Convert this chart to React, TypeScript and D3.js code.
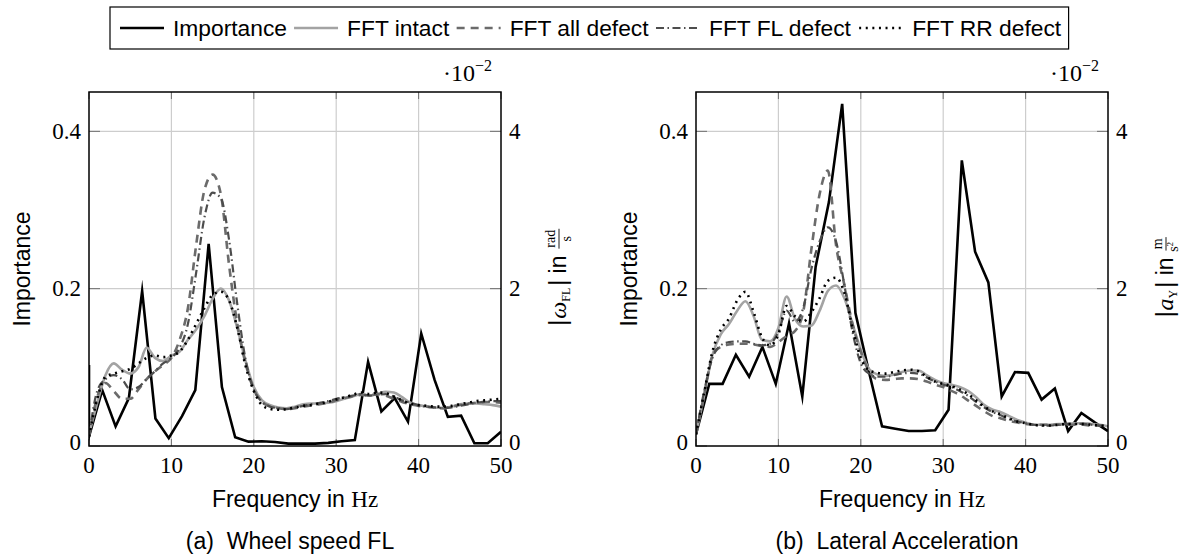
import React from "react";
import * as d3 from "d3";

// ---------- data ----------
// importance bins (32 points, 0 … 50 Hz)
const BIN_FREQ = [0, 1.61, 3.23, 4.84, 6.45, 8.06, 9.68, 11.29, 12.9, 14.52, 16.13, 17.74, 19.35, 20.97, 22.58, 24.19, 25.81, 27.42, 29.03, 30.65, 32.26, 33.87, 35.48, 37.1, 38.71, 40.32, 41.94, 43.55, 45.16, 46.77, 48.39, 50];
const IMP_FREQ_A = [0, 0, 1.61, 3.23, 4.84, 6.45, 8.06, 9.68, 11.29, 12.9, 14.52, 16.13, 17.74, 19.35, 20.97, 22.58, 24.19, 25.81, 27.42, 29.03, 30.65, 32.26, 33.87, 35.48, 37.1, 38.71, 40.32, 41.94, 43.55, 45.16, 46.77, 48.39, 50];
const IMPORTANCE_A = [0.103, 0.012, 0.071, 0.025, 0.061, 0.197, 0.035, 0.010, 0.038, 0.071, 0.257, 0.075, 0.011, 0.0055, 0.006, 0.005, 0.003, 0.003, 0.003, 0.004, 0.006, 0.0075, 0.107, 0.044, 0.061, 0.031, 0.143, 0.084, 0.037, 0.0385, 0.0035, 0.0035, 0.018];
const IMPORTANCE_B = [0.015, 0.079, 0.079, 0.116, 0.088, 0.126, 0.079, 0.156, 0.063, 0.228, 0.31, 0.435, 0.169, 0.095, 0.025, 0.022, 0.019, 0.019, 0.02, 0.046, 0.363, 0.247, 0.208, 0.063, 0.094, 0.093, 0.059, 0.073, 0.019, 0.042, 0.030, 0.019];

const FFT_FREQ = [0, 1, 2, 3, 4, 5, 6, 7, 8, 9, 10, 11, 12, 13, 14, 15, 16, 17, 18, 19, 20, 21, 22, 23, 24, 25, 26, 27, 28, 29, 30, 31, 32, 33, 34, 35, 36, 37, 38, 39, 40, 41, 42, 43, 44, 45, 46, 47, 48, 49, 50];

// panel (a) wheel speed FL, values in 1e-2 rad/s
const A_INTACT = [0.15, 0.55, 0.9, 1.05, 0.97, 0.92, 1.0, 1.25, 1.12, 1.08, 1.15, 1.2, 1.35, 1.48, 1.65, 1.87, 2.0, 1.85, 1.5, 1.08, 0.75, 0.58, 0.52, 0.49, 0.48, 0.5, 0.53, 0.54, 0.54, 0.55, 0.57, 0.6, 0.63, 0.66, 0.64, 0.66, 0.69, 0.68, 0.62, 0.55, 0.52, 0.5, 0.49, 0.48, 0.5, 0.53, 0.54, 0.54, 0.53, 0.52, 0.5];
const A_ALL = [0.12, 0.62, 0.8, 0.7, 0.6, 0.6, 0.72, 0.85, 0.95, 1.03, 1.12, 1.35, 1.75, 2.55, 3.25, 3.45, 3.2, 2.3, 1.55, 1.05, 0.72, 0.56, 0.5, 0.48, 0.47, 0.48, 0.5, 0.52, 0.53, 0.55, 0.58, 0.61, 0.63, 0.65, 0.64, 0.66, 0.64, 0.6, 0.56, 0.53, 0.51, 0.5, 0.49, 0.48, 0.5, 0.52, 0.54, 0.55, 0.56, 0.56, 0.55];
const A_FL = [0.12, 0.7, 0.85, 0.9, 0.85, 0.72, 0.75, 0.85, 0.95, 1.05, 1.12, 1.25, 1.55, 2.2, 2.9, 3.22, 3.15, 2.62, 1.8, 1.1, 0.72, 0.56, 0.5, 0.48, 0.47, 0.49, 0.51, 0.53, 0.55, 0.57, 0.6, 0.62, 0.64, 0.66, 0.64, 0.65, 0.66, 0.63, 0.58, 0.55, 0.52, 0.5, 0.49, 0.48, 0.49, 0.51, 0.53, 0.55, 0.56, 0.57, 0.57];
const A_RR = [0.12, 0.6, 0.88, 0.92, 0.95, 0.98, 1.05, 1.12, 1.15, 1.13, 1.15, 1.2, 1.35, 1.55, 1.75, 1.92, 1.96, 1.85, 1.5, 1.02, 0.7, 0.52, 0.47, 0.46, 0.47, 0.49, 0.51, 0.52, 0.54, 0.56, 0.59, 0.62, 0.65, 0.68, 0.66, 0.68, 0.67, 0.63, 0.58, 0.54, 0.52, 0.51, 0.5, 0.5, 0.51, 0.53, 0.55, 0.57, 0.58, 0.59, 0.6];

// panel (b) lateral acceleration, values in 1e-2 m/s^2
const B_INTACT = [0.15, 0.65, 1.16, 1.42, 1.55, 1.72, 1.84, 1.65, 1.35, 1.33, 1.5, 1.9, 1.62, 1.52, 1.53, 1.72, 1.97, 2.04, 1.88, 1.55, 1.22, 0.98, 0.91, 0.89, 0.91, 0.94, 0.96, 0.96, 0.9, 0.84, 0.8, 0.78, 0.75, 0.7, 0.62, 0.52, 0.46, 0.43, 0.38, 0.33, 0.3, 0.27, 0.27, 0.27, 0.28, 0.28, 0.29, 0.29, 0.28, 0.27, 0.25];
const B_ALL = [0.15, 0.65, 1.15, 1.26, 1.29, 1.3, 1.3, 1.29, 1.27, 1.26, 1.32, 1.4, 1.46, 1.7, 2.5, 3.2, 3.5, 2.55, 2.05, 1.55, 1.2, 0.95, 0.85, 0.84, 0.85, 0.86, 0.86, 0.85, 0.82, 0.78, 0.75, 0.7, 0.65, 0.58, 0.51, 0.44, 0.38, 0.35, 0.32, 0.3, 0.28, 0.27, 0.27, 0.27, 0.27, 0.27, 0.27, 0.27, 0.26, 0.26, 0.25];
const B_FL = [0.15, 0.7, 1.12, 1.28, 1.32, 1.33, 1.33, 1.3, 1.28, 1.3, 1.45, 1.72, 1.58, 1.75, 2.25, 2.6, 2.78, 2.6, 2.05, 1.45, 1.05, 0.92, 0.88, 0.88, 0.9, 0.92, 0.93, 0.92, 0.87, 0.82, 0.78, 0.75, 0.7, 0.64, 0.56, 0.49, 0.43, 0.39, 0.34, 0.31, 0.29, 0.27, 0.26, 0.26, 0.27, 0.28, 0.28, 0.28, 0.27, 0.26, 0.25];
const B_RR = [0.15, 0.68, 1.2, 1.48, 1.62, 1.85, 1.96, 1.7, 1.38, 1.28, 1.42, 1.78, 1.65, 1.58, 1.7, 1.88, 2.1, 2.14, 1.95, 1.5, 1.12, 0.96, 0.93, 0.92, 0.94, 0.96, 0.97, 0.95, 0.88, 0.82, 0.79, 0.76, 0.72, 0.66, 0.58, 0.5, 0.44, 0.4, 0.35, 0.31, 0.29, 0.27, 0.26, 0.26, 0.27, 0.28, 0.28, 0.28, 0.27, 0.26, 0.25];

const X_TICKS = [0, 10, 20, 30, 40, 50];
const Y_LEFT_TICKS = [0, 0.2, 0.4];
const Y_RIGHT_TICKS = [0, 2, 4];
const LEGEND_LABELS = ["Importance", "FFT intact", "FFT all defect", "FFT FL defect", "FFT RR defect"];

// ---------- styling ----------
const SANS = "'Liberation Sans', Arial, sans-serif";
const SERIF = "'Liberation Serif', 'Times New Roman', serif";
const FS = 23;
const LEG_FS = 22.8;
const TICK_FS = 23;

const STYLES = [
  { stroke: "#000000", width: 2.6, dash: "" },
  { stroke: "#a3a3a3", width: 2.6, dash: "" },
  { stroke: "#6b6b6b", width: 2.6, dash: "8 6" },
  { stroke: "#4d4d4d", width: 2.2, dash: "8 3.5 1.5 3.5" },
  { stroke: "#000000", width: 2.6, dash: "2 4.6" },
];

let canvasCtx: CanvasRenderingContext2D | null = null;
function measure(text: string, font: string): number {
  if (!canvasCtx) {
    const c = document.createElement("canvas");
    canvasCtx = c.getContext("2d");
  }
  if (!canvasCtx) return text.length * 10;
  canvasCtx.font = font;
  return canvasCtx.measureText(text).width;
}

const TOP = 92;
const BOTTOM = 446;

type PanelProps = {
  x0: number;
  x1: number;
  impFreq: number[];
  imp: number[];
  ffts: number[][];
  caption: string;
  sym: string;
  sub: string;
  num: string;
  den: string;
  denSup?: string;
  id: string;
};

function RightTitle({ cx, cy, sym, sub, num, den, denSup }: any) {
  const sansF = `${FS}px ${SANS}`;
  const symF = `italic ${FS + 1}px ${SERIF}`;
  const subF = `12px ${SERIF}`;
  const fracF = `14px ${SERIF}`;
  const w1 = measure("|", sansF);
  const w2 = measure(sym, symF);
  const w3 = measure(sub, subF);
  const w4 = measure("|", sansF);
  const w5 = measure(" in ", sansF);
  const wNum = measure(num, fracF);
  const wDen = measure(den, fracF) + (denSup ? 6 : 0);
  const wf = Math.max(wNum, wDen) + 3;
  const total = w1 + 1 + w2 + w3 + 2 + w4 + w5 + wf;
  let x = -total / 2;
  const base = 8;
  const xs: number[] = [];
  xs.push(x); x += w1 + 1;
  xs.push(x); x += w2;
  xs.push(x); x += w3 + 2;
  xs.push(x); x += w4;
  xs.push(x); x += w5;
  const fx = x;
  const fc = fx + wf / 2;
  return (
    <g transform={`translate(${cx},${cy}) rotate(-90)`}>
      <text x={xs[0]} y={base} fontFamily={SANS} fontSize={FS}>|</text>
      <text x={xs[1]} y={base} fontFamily={SERIF} fontStyle="italic" fontSize={FS + 1}>{sym}</text>
      <text x={xs[2]} y={base + 4} fontFamily={SERIF} fontSize={12}>{sub}</text>
      <text x={xs[3]} y={base} fontFamily={SANS} fontSize={FS}>|</text>
      <text x={xs[4]} y={base} fontFamily={SANS} fontSize={FS} style={{ whiteSpace: "pre" }}>{" in "}</text>
      <text x={fc} y={-3} textAnchor="middle" fontFamily={SERIF} fontSize={14}>{num}</text>
      <line x1={fx + 0.5} x2={fx + wf - 0.5} y1={1} y2={1} stroke="#000" strokeWidth={0.9} />
      <text x={fc - (denSup ? 3 : 0)} y={13} textAnchor="middle" fontFamily={SERIF} fontSize={14}>
        {den}
        {denSup ? <tspan fontSize={9} dy={-5}>{denSup}</tspan> : null}
      </text>
    </g>
  );
}

function Panel(p: PanelProps) {
  const x = d3.scaleLinear().domain([0, 50]).range([p.x0, p.x1]);
  const yL = d3.scaleLinear().domain([0, 0.45]).range([BOTTOM, TOP]);
  const yR = d3.scaleLinear().domain([0, 4.5]).range([BOTTOM, TOP]);
  const impLine = d3
    .line<number>()
    .x((_, i) => x(p.impFreq[i]))
    .y((d) => yL(d));
  const fftLine = d3
    .line<number>()
    .curve(d3.curveMonotoneX)
    .x((_, i) => x(FFT_FREQ[i]))
    .y((d) => yR(d));
  const cx = (p.x0 + p.x1) / 2;
  const gridC = "#cdcdcd";
  const tickC = "#6f6f6f";
  return (
    <g>
      <defs>
        <clipPath id={`clip-${p.id}`}>
          <rect x={p.x0} y={TOP} width={p.x1 - p.x0} height={BOTTOM - TOP} />
        </clipPath>
      </defs>
      {X_TICKS.filter((t) => t > 0 && t < 50).map((t) => (
        <line key={`gx${t}`} x1={x(t)} x2={x(t)} y1={TOP} y2={BOTTOM} stroke={gridC} strokeWidth={1.2} />
      ))}
      {Y_LEFT_TICKS.filter((t) => t > 0).map((t) => (
        <line key={`gy${t}`} x1={p.x0} x2={p.x1} y1={yL(t)} y2={yL(t)} stroke={gridC} strokeWidth={1.2} />
      ))}
      {X_TICKS.map((t) => (
        <g key={`tx${t}`}>
          <line x1={x(t)} x2={x(t)} y1={BOTTOM} y2={BOTTOM - 7} stroke={tickC} strokeWidth={1} />
          <line x1={x(t)} x2={x(t)} y1={TOP} y2={TOP + 7} stroke={tickC} strokeWidth={1} />
        </g>
      ))}
      {Y_LEFT_TICKS.map((t) => (
        <line key={`tyl${t}`} x1={p.x0} x2={p.x0 + 11} y1={yL(t)} y2={yL(t)} stroke={tickC} strokeWidth={1} />
      ))}
      {Y_RIGHT_TICKS.map((t) => (
        <line key={`tyr${t}`} x1={p.x1} x2={p.x1 - 11} y1={yR(t)} y2={yR(t)} stroke={tickC} strokeWidth={1} />
      ))}
      <g clipPath={`url(#clip-${p.id})`}>
        <path d={impLine(p.imp) || ""} fill="none" stroke={STYLES[0].stroke} strokeWidth={STYLES[0].width} strokeLinejoin="miter" strokeMiterlimit={10} />
        {p.ffts.map((s, k) => (
          <path
            key={`f${k}`}
            d={fftLine(s) || ""}
            fill="none"
            stroke={STYLES[k + 1].stroke}
            strokeWidth={STYLES[k + 1].width}
            strokeDasharray={STYLES[k + 1].dash || undefined}
            strokeLinejoin="round"
          />
        ))}
      </g>
      <rect x={p.x0} y={TOP} width={p.x1 - p.x0} height={BOTTOM - TOP} fill="none" stroke="#000" strokeWidth={1.5} />
      {X_TICKS.map((t) => (
        <text key={`lx${t}`} x={x(t)} y={473} textAnchor="middle" fontFamily={SERIF} fontSize={TICK_FS}>
          {t}
        </text>
      ))}
      {Y_LEFT_TICKS.map((t) => (
        <text key={`ll${t}`} x={p.x0 - 8} y={yL(t) + (t === 0 ? 4 : 7.5)} textAnchor="end" fontFamily={SERIF} fontSize={TICK_FS}>
          {t === 0 ? "0" : d3.format(".1f")(t)}
        </text>
      ))}
      {Y_RIGHT_TICKS.map((t) => (
        <text key={`lr${t}`} x={p.x1 + 8} y={yR(t) + (t === 0 ? 4 : 7.5)} textAnchor="start" fontFamily={SERIF} fontSize={TICK_FS}>
          {t}
        </text>
      ))}
      <text x={p.x1 - 9} y={81} textAnchor="end" fontFamily={SERIF} fontSize={24}>
        {"·10"}
        <tspan fontSize={16} dy={-10}>{"−2"}</tspan>
      </text>
      <text transform={`translate(${p.x0 - 59},${(TOP + BOTTOM) / 2}) rotate(-90)`} textAnchor="middle" fontFamily={SANS} fontSize={FS}>
        Importance
      </text>
      <RightTitle cx={p.x1 + 57} cy={(TOP + BOTTOM) / 2 + 8} sym={p.sym} sub={p.sub} num={p.num} den={p.den} denSup={p.denSup} />
      <text x={cx} y={507} textAnchor="middle" fontFamily={SANS} fontSize={FS}>
        {"Frequency in "}
        <tspan fontFamily={SERIF}>Hz</tspan>
      </text>
      <text x={cx - 5} y={549} textAnchor="middle" fontFamily={SANS} fontSize={FS} style={{ whiteSpace: "pre" }}>
        {p.caption}
      </text>
    </g>
  );
}

function Legend() {
  const font = `${LEG_FS}px ${SANS}`;
  const left = 110;
  const top = 7;
  const h = 42;
  const cy = top + h / 2;
  const sample = 44;
  let xx = left + 10;
  let lastEnd = xx;
  const items = LEGEND_LABELS.map((lab, i) => {
    const sx = xx;
    const tx = sx + sample + 9;
    const w = measure(lab, font);
    lastEnd = tx + w;
    xx = tx + w + 7;
    return { lab, sx, tx, i };
  });
  const right = lastEnd + 7;
  return (
    <g>
      <rect x={left} y={top} width={right - left} height={h} fill="#fff" stroke="#000" strokeWidth={1.2} />
      {items.map((it) => (
        <g key={it.lab}>
          <line
            x1={it.sx}
            x2={it.sx + sample}
            y1={cy}
            y2={cy}
            stroke={STYLES[it.i].stroke}
            strokeWidth={STYLES[it.i].width}
            strokeDasharray={STYLES[it.i].dash || undefined}
          />
          <text x={it.tx} y={cy + 8} fontFamily={SANS} fontSize={LEG_FS}>
            {it.lab}
          </text>
        </g>
      ))}
    </g>
  );
}

export default function App() {
  return (
    <svg width={1180} height={556} style={{ position: "absolute", left: 0, top: 0, background: "#fff" }}>
      <rect x={0} y={0} width={1180} height={556} fill="#fff" />
      <Panel
        id="a"
        x0={89}
        x1={501}
        impFreq={IMP_FREQ_A}
        imp={IMPORTANCE_A}
        ffts={[A_INTACT, A_ALL, A_FL, A_RR]}
        caption={"(a)  Wheel speed FL"}
        sym="ω"
        sub="FL"
        num="rad"
        den="s"
      />
      <Panel
        id="b"
        x0={696}
        x1={1108}
        impFreq={BIN_FREQ}
        imp={IMPORTANCE_B}
        ffts={[B_INTACT, B_ALL, B_FL, B_RR]}
        caption={"(b)  Lateral Acceleration"}
        sym="a"
        sub="Y"
        num="m"
        den="s"
        denSup="2"
      />
      <Legend />
    </svg>
  );
}
